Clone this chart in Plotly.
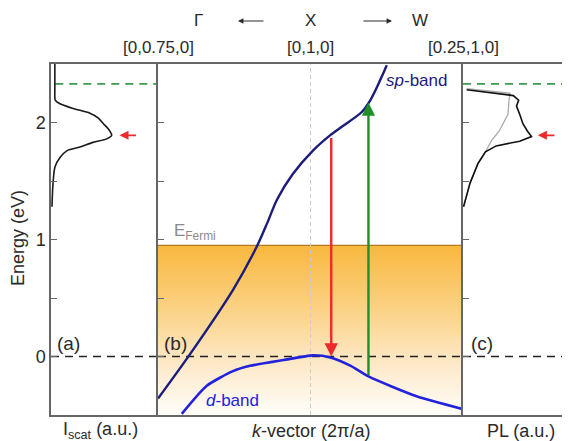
import plotly.graph_objects as go

# ---------------- data ----------------
# panel (a): scattering spectrum  (energy, intensity a.u.)
scat_E = [2.50, 2.40, 2.30, 2.22, 2.19, 2.16, 2.12, 2.08, 2.04, 1.99, 1.94, 1.89, 1.86, 1.83, 1.79, 1.76, 1.70, 1.62, 1.48, 1.28]
scat_I = [0.036, 0.036, 0.036, 0.036, 0.040, 0.084, 0.206, 0.364, 0.44, 0.49, 0.54, 0.567, 0.52, 0.393, 0.27, 0.15, 0.084, 0.037, 0.019, 0.009]

# panel (b): band structure along k path (2pi/a), X at 0.25
sp_k = [0.0, 0.0525, 0.123, 0.162, 0.179, 0.195, 0.221, 0.254, 0.282, 0.303, 0.334, 0.348, 0.364, 0.375]
sp_E = [-0.36, 0.02, 0.57, 0.94, 1.14, 1.34, 1.56, 1.76, 1.89, 1.97, 2.09, 2.19, 2.36, 2.49]
d_k = [0.039, 0.080, 0.123, 0.151, 0.206, 0.254, 0.284, 0.316, 0.345, 0.424, 0.50]
d_E = [-0.49, -0.25, -0.125, -0.08, -0.03, 0.01, -0.01, -0.08, -0.17, -0.34, -0.45]
E_fermi = 0.95
k_X = 0.25
# transitions: (k, E_start, E_end)
emission = (0.284, 1.88, 0.0)
absorption = (0.345, -0.17, 2.17)

# panel (c): PL spectra
pl_black_E = [2.28, 2.25, 2.23, 2.19, 2.14, 2.07, 1.99, 1.93, 1.88, 1.84, 1.80, 1.75, 1.65, 1.48, 1.34, 1.28]
pl_black_I = [0.034, 0.30, 0.47, 0.52, 0.50, 0.53, 0.56, 0.60, 0.64, 0.53, 0.31, 0.21, 0.14, 0.065, 0.02, 0.005]
pl_grey_E = [2.29, 2.25, 2.19, 2.07, 1.93, 1.85, 1.75, 1.65, 1.48, 1.34, 1.28]
pl_grey_I = [0.034, 0.44, 0.43, 0.42, 0.34, 0.27, 0.21, 0.14, 0.065, 0.02, 0.005]

ref_levels = {"zero": 0.0, "laser": 2.33}
peak_E = 1.89

top_labels = ["[0,0.75,0]", "[0,1,0]", "[0.25,1,0]"]
top_label_k = [0.0, 0.25, 0.5]

# ---------------- figure ----------------
FONT = "Liberation Sans, Arial, sans-serif"
AX = "#666666"
TXT = "#2a2a2a"
# the page body adds an 8px margin; size the figure so the plot lands where the reference has it
W, H = 562, 433
ml, mr, mt, mb = 43, 0, 56, 26
pw = W - ml - mr          # 519
ph = H - mt - mb          # 351
PX0, PY1 = 51, 415        # page-pixel position of plot left / bottom


def px(x):
    return (x - PX0) / pw


def py(y):
    return (PY1 - y) / ph


da = px(158)
db = px(463)

fig = go.Figure()

# Fermi sea gradient fill
fig.add_trace(go.Scatter(
    x=[0, 0.5, 0.5, 0, 0], y=[-0.5, -0.5, E_fermi, E_fermi, -0.5],
    xaxis="x2", yaxis="y2", mode="lines", line=dict(width=0),
    fill="toself",
    fillgradient=dict(type="vertical",
                      colorscale=[[0, "#fffdfa"], [0.3, "#fde9c8"], [0.65, "#fbd080"], [1, "#f8b83e"]]),
    hoverinfo="skip", showlegend=False))
# Fermi line
fig.add_trace(go.Scatter(x=[0, 0.5], y=[E_fermi, E_fermi], xaxis="x2", yaxis="y2",
                         mode="lines", line=dict(color="#b07a20", width=1.2), showlegend=False))
# X vertical line
fig.add_trace(go.Scatter(x=[k_X, k_X], y=[-0.5, 2.5], xaxis="x2", yaxis="y2",
                         mode="lines", line=dict(color="#cccccc", width=1, dash="4px,3px"), showlegend=False))

# dashed reference levels
fig.add_trace(go.Scatter(x=[0.04, 1], y=[ref_levels["laser"]] * 2, xaxis="x", yaxis="y",
                         mode="lines", line=dict(color="#3c9a4c", width=1.6, dash="8px,6px"), showlegend=False))
fig.add_trace(go.Scatter(x=[0, 1], y=[ref_levels["laser"]] * 2, xaxis="x3", yaxis="y3",
                         mode="lines", line=dict(color="#3c9a4c", width=1.6, dash="8px,6px"), showlegend=False))
for xa, ya, xr in (("x", "y", [0, 1]), ("x2", "y2", [0, 0.5]), ("x3", "y3", [0, 1])):
    fig.add_trace(go.Scatter(x=xr, y=[ref_levels["zero"]] * 2, xaxis=xa, yaxis=ya,
                             mode="lines", line=dict(color="#222222", width=1.5, dash="8px,6px"),
                             showlegend=False))

# bands
fig.add_trace(go.Scatter(x=sp_k, y=sp_E, xaxis="x2", yaxis="y2", mode="lines",
                         line=dict(color="#1c1c7c", width=2.4, shape="spline", smoothing=0.8), showlegend=False))
fig.add_trace(go.Scatter(x=d_k, y=d_E, xaxis="x2", yaxis="y2", mode="lines",
                         line=dict(color="#2222dd", width=2.6, shape="spline", smoothing=0.6), showlegend=False))

# spectra
fig.add_trace(go.Scatter(x=scat_I, y=scat_E, xaxis="x", yaxis="y", mode="lines",
                         line=dict(color="#1a1a1a", width=1.6, shape="spline", smoothing=0.8), showlegend=False))
fig.add_trace(go.Scatter(x=pl_grey_I, y=pl_grey_E, xaxis="x3", yaxis="y3", mode="lines",
                         line=dict(color="#aaaaaa", width=1.3), showlegend=False))
fig.add_trace(go.Scatter(x=pl_black_I, y=pl_black_E, xaxis="x3", yaxis="y3", mode="lines",
                         line=dict(color="#111111", width=1.6), showlegend=False))

ann = []
# transition arrows
ann.append(dict(x=emission[0], y=emission[2], ax=emission[0], ay=emission[1], xref="x2", yref="y2",
                axref="x2", ayref="y2", showarrow=True, arrowhead=2, arrowsize=1.1, arrowwidth=2.4,
                arrowcolor="#ee2a2a", text=""))
ann.append(dict(x=absorption[0], y=absorption[2], ax=absorption[0], ay=absorption[1], xref="x2", yref="y2",
                axref="x2", ayref="y2", showarrow=True, arrowhead=2, arrowsize=1.1, arrowwidth=2.4,
                arrowcolor="#1f8f2a", text=""))
# small red arrows at peaks
ann.append(dict(x=0.64, y=peak_E, xref="x", yref="y", ax=18, ay=0, showarrow=True, arrowhead=2,
                arrowsize=1, arrowwidth=1.8, arrowcolor="#ee2a2a", text=""))
ann.append(dict(x=0.70, y=peak_E, xref="x3", yref="y3", ax=18, ay=0, showarrow=True, arrowhead=2,
                arrowsize=1, arrowwidth=1.8, arrowcolor="#ee2a2a", text=""))


def label(text, x, y, size, color=TXT, xanchor="center", **kw):
    ann.append(dict(x=x, y=y, xref="paper", yref="paper", text=text, showarrow=False,
                    xanchor=xanchor, yanchor="middle", font=dict(family=FONT, size=size, color=color), **kw))


# top labels
for lab, k in zip(top_labels, top_label_k):
    ann.append(dict(x=k, y=py(47), xref="x2", yref="paper", text=lab, showarrow=False,
                    xanchor="center", yanchor="middle", font=dict(family=FONT, size=17, color=TXT)))
for t, x0 in (("Γ", 198), ("X", 310), ("W", 420)):
    label(t, px(x0), py(21), 17)
ann.append(dict(x=px(238), y=py(21), ax=27, ay=0, xref="paper", yref="paper",
                showarrow=True, arrowhead=2, arrowsize=0.9, arrowwidth=1.2, arrowcolor=TXT, text=""))
ann.append(dict(x=px(392), y=py(21), ax=-30, ay=0, xref="paper", yref="paper",
                showarrow=True, arrowhead=2, arrowsize=0.9, arrowwidth=1.2, arrowcolor=TXT, text=""))

# panel letters
for t, x0 in (("(a)", 68), ("(b)", 175), ("(c)", 482)):
    label(t, px(x0), py(343), 19)

# band labels
label("<i>sp</i>-band", px(416), py(80), 17, color="#1c1c7c")
label("<i>d</i>-band", px(232), py(400), 17, color="#2222dd")
label("E<sub>Fermi</sub>", px(172), py(232), 17, color="#8a8a8a", xanchor="left")

# axis titles
label("Energy (eV)", px(18), py(238), 18, textangle=-90)
for t, x0 in (("I<sub>scat</sub> (a.u.)", 100), ("<i>k</i>-vector (2π/a)", 311), ("PL (a.u.)", 521)):
    label(t, px(x0), py(431), 18)

yticks = [0, 0.5, 1, 1.5, 2]
ytext = ["0", "", "1", "", "2"]
common_x = dict(showgrid=False, zeroline=False, showticklabels=False, ticks="",
                showline=True, linecolor=AX, linewidth=1.5, mirror=True, fixedrange=True)
common_y = dict(range=[-0.5, 2.5], showgrid=False, zeroline=False, showline=True, linecolor=AX,
                linewidth=1.5, ticks="inside", ticklen=6, tickcolor=AX, tickwidth=1.2,
                tickvals=yticks, ticktext=ytext, automargin=False, mirror=False)

fig.update_layout(
    width=W, height=H, margin=dict(l=ml, r=mr, t=mt, b=mb),
    paper_bgcolor="white", plot_bgcolor="rgba(0,0,0,0)",
    font=dict(family=FONT, color=TXT),
    xaxis=dict(domain=[0, da], range=[0, 1], **common_x),
    xaxis2=dict(domain=[da, db], range=[0, 0.5], **common_x),
    xaxis3=dict(domain=[db, 1], range=[0, 1], **common_x),
    yaxis=dict(anchor="x", showticklabels=True,
               tickfont=dict(family=FONT, size=18, color=TXT), **common_y),
    yaxis2=dict(anchor="x2", matches="y", showticklabels=False, **common_y),
    yaxis3=dict(anchor="x3", matches="y", showticklabels=False, **common_y),
    annotations=ann,
)

fig.write_html("out.html")
